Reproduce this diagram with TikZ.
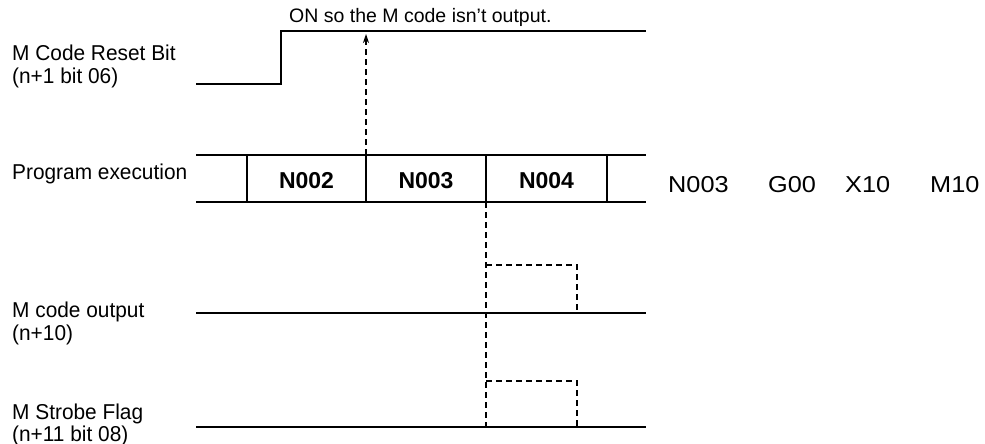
\documentclass[tikz,border=0pt]{standalone}
\usepackage{fontspec}
\setmainfont{Liberation Sans}
\newfontfamily\labface[FakeStretch=0.97]{Liberation Sans}
\newfontfamily\wideface[FakeStretch=1.1]{Liberation Sans}
\usetikzlibrary{arrows.meta}
\begin{document}
\begin{tikzpicture}[x=1pt,y=-1pt,
  sig/.style={line width=1.6pt},
  dsh/.style={line width=1.2pt, dash pattern=on 6pt off 4pt},
  lbl/.style={anchor=base west, inner sep=0pt, font=\labface\fontsize{21.5}{21.5}\selectfont},
  toptxt/.style={anchor=base west, inner sep=0pt, font=\fontsize{19.5}{19.5}\selectfont},
  cell/.style={anchor=base, inner sep=0pt, font=\bfseries\fontsize{23}{23}\selectfont},
  code/.style={anchor=base west, inner sep=0pt, font=\wideface\fontsize{23}{23}\selectfont}
]
\useasboundingbox (0,0) rectangle (985,444);

% left labels
\node[lbl] (l1a) at (12,61) {M Code Reset Bit};
\node[lbl] (l1b) at (12,84) {(n+1 bit 06)};
\node[lbl] (l2) at (12,179) {Program execution};
\node[lbl] (l3a) at (12,317) {M code output};
\node[lbl] (l3b) at (12,340) {(n+10)};
\node[lbl] (l4a) at (12,419) {M Strobe Flag};
\node[lbl] (l4b) at (12,441) {(n+11 bit 08)};

% top note
\node[toptxt] (note) at (289,23) {ON so the M code isn’t output.};

% M Code Reset Bit waveform
\coordinate (r0) at (196,84);
\coordinate (r1) at (281,84);
\coordinate (r2) at (281,31);
\coordinate (r3) at (646,31);
\draw[sig] (r0) -- (r1) -- (r2) -- (r3);

% Program execution band
\coordinate (pt0) at (196,155);
\coordinate (pt1) at (646,155);
\coordinate (pb0) at (196,202);
\coordinate (pb1) at (646,202);
\draw[sig] (pt0) -- (pt1);
\draw[sig] (pb0) -- (pb1);
\foreach \x/\n in {247/a,366/b,486/c,607/d}{
  \coordinate (dt\n) at (\x,155);
  \coordinate (db\n) at (\x,202);
  \draw[sig] (dt\n) -- (db\n);
}
\node[cell] (c1) at (306.5,188) {N002};
\node[cell] (c2) at (426,188) {N003};
\node[cell] (c3) at (546.5,188) {N004};

% program line text
\node[code] (w1) at (668,192) {N003};
\node[code] (w2) at (768,192) {G00};
\node[code] (w3) at (845,192) {X10};
\node[code] (w4) at (930,192) {M10};

% dashed arrow up
\coordinate (atip) at (366,34);
\draw[dsh,-{Stealth[length=9pt,width=6pt]}] (dtb) -- (atip);

% M code output waveform
\coordinate (m0) at (196,313);
\coordinate (m1) at (646,313);
\draw[sig] (m0) -- (m1);
\coordinate (mp1) at (486,265);
\coordinate (mp2) at (577,265);
\coordinate (mp3) at (577,313);
\draw[dsh] (mp1) -- (mp2) -- (mp3);

% M Strobe Flag waveform
\coordinate (s0) at (196,427);
\coordinate (s1) at (646,427);
\draw[sig] (s0) -- (s1);
\coordinate (sp1) at (486,381);
\coordinate (sp2) at (577,381);
\coordinate (sp3) at (577,427);
\draw[dsh] (sp1) -- (sp2) -- (sp3);

% long dashed vertical
\coordinate (vend) at (486,430);
\draw[dsh] (dbc) -- (vend);
\end{tikzpicture}
\end{document}
